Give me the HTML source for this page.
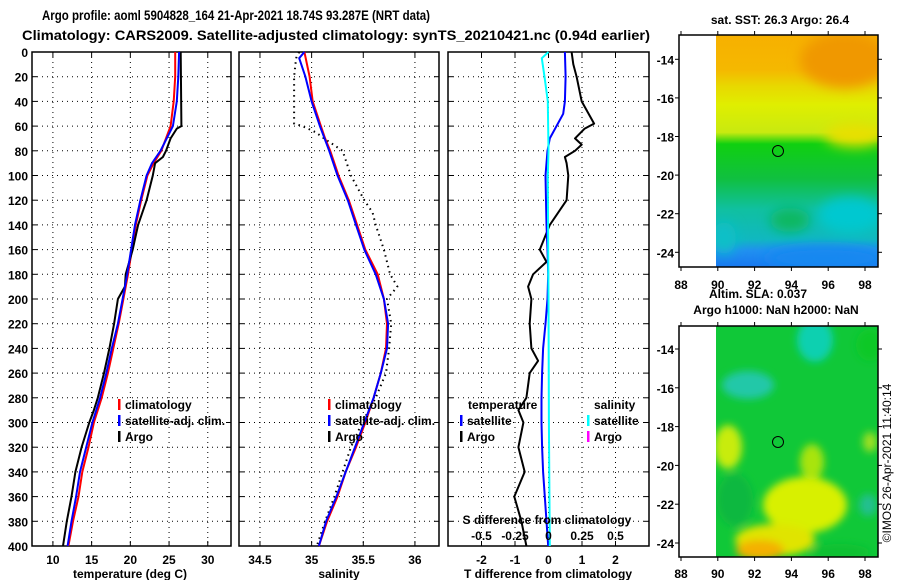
<!DOCTYPE html>
<html><head><meta charset="utf-8"><style>
html,body{margin:0;padding:0;background:#fff;}
svg{display:block;}
text{font-family:"Liberation Sans",sans-serif;font-weight:bold;fill:#000;}
</style></head><body>
<svg id="fig" width="900" height="580" viewBox="0 0 900 580">
<defs>
<filter id="bl" x="-50%" y="-50%" width="200%" height="200%"><feGaussianBlur stdDeviation="6"/></filter>
<filter id="bl2" x="-50%" y="-50%" width="200%" height="200%"><feGaussianBlur stdDeviation="4"/></filter>
<clipPath id="c1"><rect x="716" y="35" width="162" height="232"/></clipPath>
<clipPath id="c2"><rect x="716" y="326" width="162" height="231"/></clipPath>
<linearGradient id="g1" x1="0" y1="0" x2="0" y2="1">
<stop offset="0" stop-color="#f7b000"/><stop offset="0.15" stop-color="#f5b800"/>
<stop offset="0.22" stop-color="#e8d800"/><stop offset="0.3" stop-color="#e0ee00"/>
<stop offset="0.42" stop-color="#c8ea10"/><stop offset="0.47" stop-color="#10d010"/>
<stop offset="0.62" stop-color="#10c040"/><stop offset="0.75" stop-color="#10c0a0"/>
<stop offset="0.88" stop-color="#10b8c0"/><stop offset="0.93" stop-color="#2090f0"/>
<stop offset="1" stop-color="#1878f0"/>
</linearGradient>
</defs>
<text x="236" y="20" font-size="14" text-anchor="middle" textLength="388" lengthAdjust="spacingAndGlyphs">Argo profile: aoml 5904828_164 21-Apr-2021 18.74S 93.287E (NRT data)</text>
<text x="336" y="40" font-size="14" text-anchor="middle" textLength="628" lengthAdjust="spacingAndGlyphs">Climatology: CARS2009. Satellite-adjusted climatology: synTS_20210421.nc (0.94d earlier)</text>
<g id="plots"></g>

<g>
<text x="780" y="24" font-size="12" text-anchor="middle">sat. SST: 26.3 Argo: 26.4</text>
<g clip-path="url(#c1)">
<rect x="716" y="35" width="162" height="232" fill="url(#g1)"/>
<g filter="url(#bl)">
<ellipse cx="845" cy="60" rx="45" ry="28" fill="#f09800"/>
<ellipse cx="855" cy="135" rx="30" ry="12" fill="#e8e000"/>
<ellipse cx="850" cy="215" rx="32" ry="18" fill="#00c8d0"/>
<ellipse cx="825" cy="258" rx="60" ry="12" fill="#1888f0"/>
<ellipse cx="724" cy="238" rx="12" ry="16" fill="#10c0c8"/>
<ellipse cx="790" cy="220" rx="20" ry="12" fill="#10b860"/>
</g>
</g>
<rect x="679" y="35" width="199" height="232" fill="none" stroke="#000" stroke-width="1.5"/>
<circle cx="778" cy="151" r="5.5" fill="none" stroke="#000" stroke-width="1"/>
</g>
<g>
<text x="758" y="298" font-size="12" text-anchor="middle">Altim. SLA: 0.037</text>
<text x="776" y="314" font-size="12" text-anchor="middle">Argo h1000: NaN h2000: NaN</text>
<g clip-path="url(#c2)">
<rect x="716" y="326" width="162" height="231" fill="#10c838"/>
<g filter="url(#bl2)">
<ellipse cx="815" cy="340" rx="18" ry="22" fill="#10d0b0"/>
<ellipse cx="748" cy="385" rx="26" ry="14" fill="#20c8a8"/>
<ellipse cx="870" cy="345" rx="14" ry="16" fill="#10c828"/>
<ellipse cx="728" cy="447" rx="14" ry="22" fill="#c8ec10"/>
<ellipse cx="735" cy="500" rx="18" ry="26" fill="#10b840"/>
<ellipse cx="805" cy="505" rx="42" ry="28" fill="#d8f000"/>
<ellipse cx="775" cy="540" rx="40" ry="16" fill="#e0e400"/>
<ellipse cx="760" cy="550" rx="24" ry="10" fill="#f4b000"/>
<ellipse cx="812" cy="462" rx="12" ry="18" fill="#a8e410"/>
<ellipse cx="868" cy="505" rx="9" ry="11" fill="#20c090"/>
<ellipse cx="870" cy="442" rx="7" ry="10" fill="#a0e020"/>
<ellipse cx="840" cy="552" rx="30" ry="8" fill="#10c030"/>
</g>
</g>
<rect x="679" y="326" width="199" height="231" fill="none" stroke="#000" stroke-width="1.5"/>
<circle cx="778" cy="442" r="5.5" fill="none" stroke="#000" stroke-width="1"/>
</g>
<text x="891" y="463" font-size="12" style="font-weight:normal" text-anchor="middle" transform="rotate(-90 891 463)">©IMOS 26-Apr-2021 11:40:14</text>
</svg>
<script>
const depthTicks = [0,20,40,60,80,100,120,140,160,180,200,220,240,260,280,300,320,340,360,380,400];
const tempTicks = [10,15,20,25,30];
const salTicks = [34.5,35,35.5,36];
const tdiffTicks = [-2,-1,0,1,2];
const sdiffTicks = [-0.5,-0.25,0,0.25,0.5];
const sdiffLabels = ["-0.5","-0.25","0","0.25","0.5"];
const mapLonTicks = [88,90,92,94,96,98];
const mapLatTicks = [-14,-16,-18,-20,-22,-24];

const climDepth = [0,20,40,60,70,80,90,100,120,140,160,180,200,220,240,260,280,300,320,340,360,380,400];
const climTemp  = [25.8,25.8,25.6,25.2,24.6,24.0,23.0,22.2,21.4,20.7,20.2,19.7,19.1,18.5,17.8,17.1,16.3,15.3,14.6,13.8,13.3,12.6,12.0];
const satTemp   = [26.3,26.2,26.0,25.5,24.7,23.9,22.8,22.1,21.3,20.6,20.1,19.6,19.0,18.4,17.6,16.9,16.1,15.1,14.3,13.5,13.0,12.4,11.9];
const argoDepth = [0,60,62,70,80,85,90,100,120,140,160,180,190,200,220,240,260,280,290,300,320,340,360,380,400];
const argoTemp  = [26.5,26.6,26.0,25.2,24.6,24.2,23.2,22.9,22.1,21.0,20.3,19.4,19.3,18.4,17.9,17.3,16.6,15.8,15.3,14.7,13.7,12.9,12.4,11.8,11.3];

const climSal = [34.93,34.98,35.01,35.09,35.13,35.18,35.22,35.26,35.36,35.44,35.52,35.64,35.70,35.73,35.72,35.67,35.60,35.52,35.43,35.33,35.25,35.15,35.07];
const satSalDepth = [0,5,20,40,60,80,100,120,140,160,180,200,220,240,260,280,300,320,340,360,380,400];
const satSal = [34.93,34.88,34.94,35.00,35.08,35.17,35.25,35.35,35.43,35.51,35.62,35.70,35.74,35.73,35.67,35.60,35.51,35.42,35.33,35.24,35.14,35.07];
const argoSalDepth = [0,5,20,58,60,65,70,80,100,120,130,140,160,180,190,200,220,240,260,280,300,320,340,360,380,400];
const argoSal = [34.88,34.85,34.83,34.83,34.91,35.04,35.12,35.30,35.38,35.51,35.59,35.62,35.70,35.76,35.83,35.73,35.77,35.75,35.72,35.62,35.49,35.38,35.30,35.22,35.13,35.05];

const satTdDepth = [0,20,40,50,60,70,80,100,140,160,180,200,220,240,260,280,300,320,340,360,380,400];
const satTdiff = [0.49,0.51,0.49,0.44,0.24,0.04,-0.03,-0.09,-0.06,-0.03,-0.01,-0.03,-0.09,-0.16,-0.19,-0.21,-0.21,-0.19,-0.16,-0.11,-0.06,-0.01];
const argoTdDepth = [0,10,20,40,58,62,70,75,80,85,90,100,120,130,140,150,160,170,180,190,200,220,240,250,260,280,290,300,320,340,360,380,400];
const argoTdiff = [0.69,0.74,0.84,0.99,1.36,1.08,0.79,0.99,0.79,0.49,0.54,0.59,0.54,0.29,0.04,-0.11,-0.26,-0.06,-0.46,-0.61,-0.51,-0.56,-0.51,-0.31,-0.56,-0.66,-0.90,-0.75,-0.90,-0.71,-1.02,-0.81,-0.66];
const satSdDepth = [0,5,20,40,80,100,200,300,400];
const satSdiff = [0.0,-0.05,-0.03,-0.005,0.0,-0.005,0.0,0.003,0.01];

const NS = "http://www.w3.org/2000/svg";
const yTop = 52, yBot = 546;
const yD = d => yTop + (d/400)*(yBot-yTop);
const panels = [
  {x0:32, x1:231, d0:7.3, d1:33.0},
  {x0:239, x1:439, d0:34.297, d1:36.233},
  {x0:448, x1:649, d0:-3, d1:3}
];
function sc(p){ return v => p.x0 + (v-p.d0)/(p.d1-p.d0)*(p.x1-p.x0); }
const xT = sc(panels[0]), xS = sc(panels[1]), xTd = sc(panels[2]);
const xSd = v => xTd(v*4);
const plotG = document.getElementById('plots');
function el(tag, attrs, parent){ const e=document.createElementNS(NS,tag); for(const k in attrs) e.setAttribute(k,attrs[k]); (parent||plotG).appendChild(e); return e; }
function txt(s,x,y,anchor,size){ const t=el('text',{x:x,y:y,'text-anchor':anchor||'middle','font-size':size||12}); t.textContent=s; return t; }

panels.forEach((p,i)=>{
  const fx = [xT,xS,xTd][i];
  const ticks = [tempTicks,salTicks,tdiffTicks][i];
  depthTicks.forEach(d=>{
    if(d>0 && d<400){
      const l=el('line',{x1:p.x0,x2:p.x1,y1:yD(d),y2:yD(d),stroke:'#000','stroke-width':1,'stroke-dasharray':'1,4'});
      
      
      el('line',{x1:p.x0,x2:p.x0+5,y1:yD(d),y2:yD(d),stroke:'#000'});
      el('line',{x1:p.x1-5,x2:p.x1,y1:yD(d),y2:yD(d),stroke:'#000'});
    }
  });
  ticks.forEach(v=>{
    const X=fx(v);
    const l=el('line',{x1:X,x2:X,y1:yTop,y2:yBot,stroke:'#000','stroke-width':1,'stroke-dasharray':'1,4'});
    
    
    el('line',{x1:X,x2:X,y1:yTop,y2:yTop+5,stroke:'#000'});
    el('line',{x1:X,x2:X,y1:yBot-5,y2:yBot,stroke:'#000'});
    const t=txt(String(v),X,564);
    
    
  });
  const r=el('rect',{x:p.x0,y:yTop,width:p.x1-p.x0,height:yBot-yTop,fill:'none',stroke:'#000','stroke-width':1.5});
  
  
});
depthTicks.forEach(d=>{
  const t=txt(String(d),28,yD(d)+5,'end');
  
  
});
[["temperature (deg C)",130],["salinity",339],["T difference from climatology",548]].forEach((a,i)=>{
  const t=txt(a[0],a[1],578);
  
  
});

function line(xs, ds, fx, color, name, dash){
  const pts = xs.map((v,i)=>fx(v).toFixed(1)+','+yD(ds[i]).toFixed(1)).join(' ');
  const pl=el('polyline',{points:pts,fill:'none',stroke:color,'stroke-width':2,'stroke-linejoin':'round'});
  if(dash) pl.setAttribute('stroke-dasharray',dash);
  
  
}
line(climTemp, climDepth, xT, '#f00', 'temp-climatology-line');
line(argoTemp, argoDepth, xT, '#000', 'temp-argo-line');
line(satTemp, climDepth, xT, '#00f', 'temp-satellite-line');
line(argoSal, argoSalDepth, xS, '#000', 'sal-argo-line', '1.5,4');
line(climSal, climDepth, xS, '#f00', 'sal-climatology-line');
line(satSal, satSalDepth, xS, '#00f', 'sal-satellite-line');
line(argoTdiff, argoTdDepth, xTd, '#000', 'tdiff-argo-line');
line(satTdiff, satTdDepth, xTd, '#00f', 'tdiff-satellite-line');
line(satSdiff, satSdDepth, xSd, '#0ff', 'sdiff-satellite-line');

function legend(x, y, color, label, name){
  const m=el('rect',{x:x-1,y:y-10,width:2.5,height:11,fill:color});
  
  
  const t=txt(label,x+6,y,'start');
  
  
}
legend(119,409,'#f00','climatology','legend-temp-climatology');
legend(119,425,'#00f','satellite-adj. clim.','legend-temp-satellite');
legend(119,441,'#000','Argo','legend-temp-argo');
legend(329,409,'#f00','climatology','legend-sal-climatology');
legend(329,425,'#00f','satellite-adj. clim.','legend-sal-satellite');
legend(329,441,'#000','Argo','legend-sal-argo');
let tx=txt('temperature',468,409,'start');  
tx=txt('salinity',594,409,'start');  
legend(461,425,'#00f','satellite','legend-tdiff-satellite');
legend(461,441,'#000','Argo','legend-tdiff-argo');
legend(588,425,'#0ff','satellite','legend-sdiff-satellite');
legend(588,441,'#f0f','Argo','legend-sdiff-argo');
tx=txt('S difference from climatology',547,524);  
sdiffTicks.forEach((v,i)=>{
  const tt=txt(sdiffLabels[i],xSd(v),540);
  
  
});

const mapLon = v => 681 + (v-88)*18.4;
const maps = [{lat14:59.3, lat24:252.3, y0:35, y1:267, lab:289},{lat14:349, lat24:543, y0:326, y1:557, lab:578}];
maps.forEach((m,mi)=>{
  const mLat = v => m.lat14 + (-14 - v)/10*(m.lat24-m.lat14);
  mapLonTicks.forEach(v=>{
    const X=mapLon(v);
    el('line',{x1:X,x2:X,y1:m.y0-4,y2:m.y0,stroke:'#000'});
    el('line',{x1:X,x2:X,y1:m.y1,y2:m.y1+4,stroke:'#000'});
    const tt=txt(String(v),X,m.lab);
    
    
  });
  mapLatTicks.forEach(v=>{
    const Y=mLat(v);
    el('line',{x1:675,x2:679,y1:Y,y2:Y,stroke:'#000'});
    el('line',{x1:878,x2:882,y1:Y,y2:Y,stroke:'#000'});
    const tt=txt(String(v),674,Y+5,'end');
    
    
  });
});
</script>
</body></html>
